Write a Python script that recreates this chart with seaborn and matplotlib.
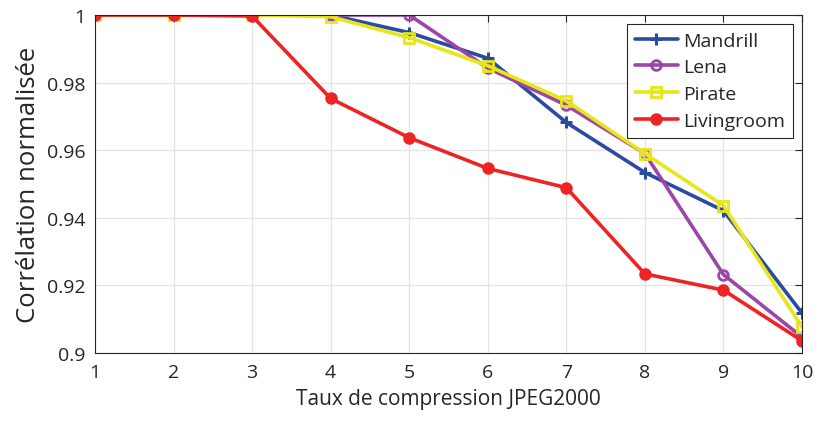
import pandas as pd
import matplotlib
matplotlib.use('Agg')
import matplotlib.pyplot as plt
import seaborn as sns

# Données
taux = [1, 2, 3, 4, 5, 6, 7, 8, 9, 10]
mandrill = [1.0, 1.0, 1.0, 1.0, 0.9948, 0.9872, 0.9682, 0.9534, 0.9421, 0.9118]
lena = [1.0, 1.0, 1.0, 1.0, 1.0, 0.9843, 0.9733, 0.9590, 0.9232, 0.9047]
pirate = [1.0, 1.0, 1.0, 0.9995, 0.9933, 0.9850, 0.9746, 0.9590, 0.9436, 0.9077]
livingroom = [1.0, 1.0, 0.9997, 0.9753, 0.9637, 0.9546, 0.9489, 0.9234, 0.9186, 0.9036]

series = {'Mandrill': mandrill, 'Lena': lena, 'Pirate': pirate, 'Livingroom': livingroom}
styles = {
    'Mandrill': dict(color='#2b4ba3', marker='+', mfc='#2b4ba3', ms=9, mew=2.2),
    'Lena': dict(color='#9b46a8', marker='o', mfc='none', ms=7, mew=2),
    'Pirate': dict(color='#e6e619', marker='s', mfc='none', ms=6.5, mew=2),
    'Livingroom': dict(color='#ee2424', marker='o', mfc='#ee2424', ms=7, mew=2),
}

rows = []
for nom, vals in series.items():
    for t, v in zip(taux, vals):
        rows.append({'Taux': t, 'Correlation': v, 'Image': nom})
df = pd.DataFrame(rows)

sns.set_style('white')
plt.rcParams['font.family'] = ['Open Sans', 'DejaVu Sans']

fig = plt.figure(figsize=(8.14, 4.27), dpi=100)
ax = fig.add_axes([0.1167, 0.171, 0.8686, 0.7915])

for nom in series:
    st = styles[nom]
    sub = df[df['Image'] == nom]
    sns.lineplot(data=sub, x='Taux', y='Correlation', ax=ax, label=nom,
                 color=st['color'], marker=st['marker'], markersize=st['ms'],
                 markerfacecolor=st['mfc'], markeredgecolor=st['color'],
                 markeredgewidth=st['mew'], linewidth=2.6)

ax.set_xlim(1, 10)
ax.set_ylim(0.9, 1.0)
ax.set_xticks(taux)
yt = [0.9, 0.92, 0.94, 0.96, 0.98, 1.0]
ax.set_yticks(yt)
ax.set_yticklabels(['0.9', '0.92', '0.94', '0.96', '0.98', '1'])
ax.grid(True, color='#e3e3e3', linewidth=0.9)
ax.set_axisbelow(True)
ax.tick_params(direction='in', top=True, right=True, length=5, width=0.8,
               labelsize=14, colors='#262626', pad=7)
for s in ax.spines.values():
    s.set_color('#262626')
    s.set_linewidth(0.8)

ax.set_xlabel('Taux de compression JPEG2000', fontsize=15, color='#262626', labelpad=5)
ax.set_ylabel('Corrélation normalisée', fontsize=18.5, color='#262626', labelpad=4)

leg = ax.legend(loc='upper right', fontsize=14, frameon=True, fancybox=False,
                edgecolor='#262626', framealpha=1, handlelength=2.2,
                borderaxespad=0.45, labelspacing=0.45, handletextpad=0.3,
                borderpad=0.4)
leg.get_frame().set_linewidth(0.8)

fig.savefig('out.png', dpi=100)
